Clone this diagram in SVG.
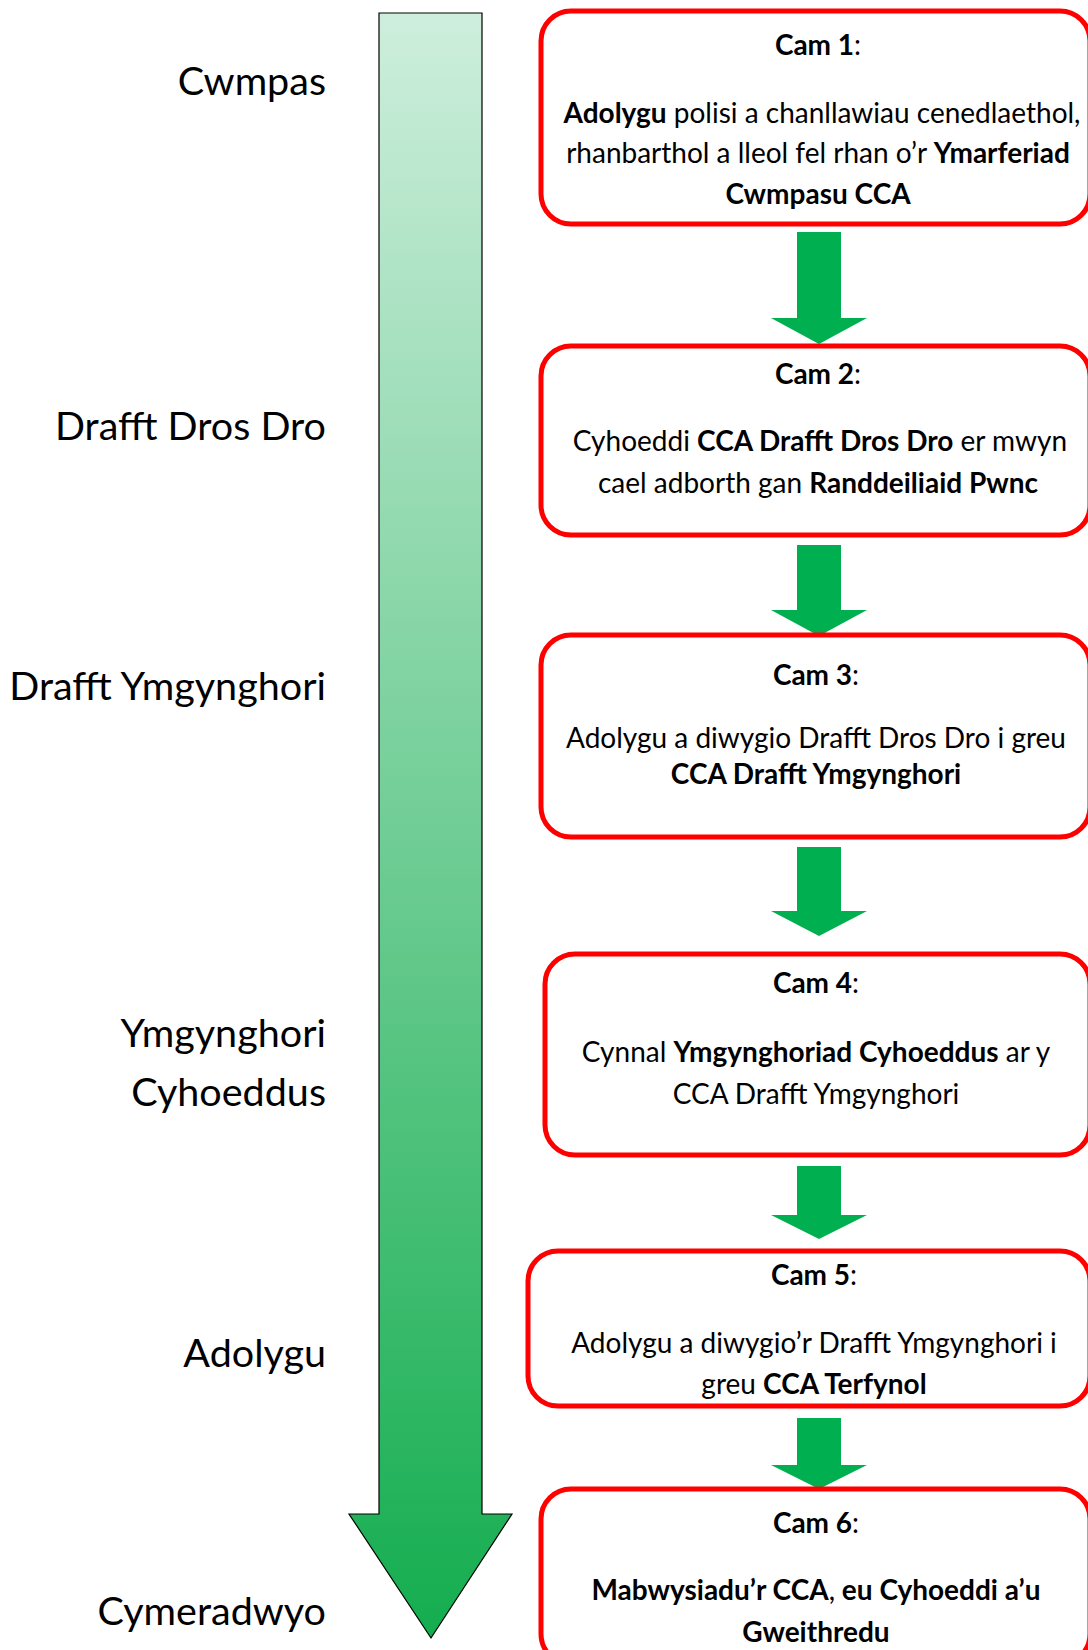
<svg xmlns="http://www.w3.org/2000/svg" width="1088" height="1650" viewBox="0 0 1088 1650">
<defs>
<linearGradient id="g" x1="0" y1="13" x2="0" y2="1639" gradientUnits="userSpaceOnUse">
<stop offset="0" stop-color="#CDEEDC"/>
<stop offset="1" stop-color="#14AD4F"/>
</linearGradient>
<style>
.lbl{font-family:Lato,"Liberation Sans",sans-serif;font-size:39.5px;fill:#000;text-anchor:end}
.box{fill:#fff;stroke:#FF0000;stroke-width:5}
.t{font-family:Lato,"Liberation Sans",sans-serif;font-size:28px;fill:#000;text-anchor:middle}
.b{font-weight:bold}
.ar{fill:#00B050}
</style>
</defs>
<rect width="1088" height="1650" fill="#fff"/>
<g id="timeline">
<path d="M379,13 H482 V1514 H512 L431,1638 L349,1514 H379 Z" fill="url(#g)" stroke="#000" stroke-width="1.2"/>
</g>
<g id="labels">
<text class="lbl" x="326" y="95">Cwmpas</text>
<text class="lbl" x="326" y="440">Drafft Dros Dro</text>
<text class="lbl" x="326" y="700">Drafft Ymgynghori</text>
<text class="lbl" x="326" y="1047">Ymgynghori</text>
<text class="lbl" x="326" y="1106">Cyhoeddus</text>
<text class="lbl" x="326" y="1367">Adolygu</text>
<text class="lbl" x="326" y="1625">Cymeradwyo</text>
</g>
<g id="connectors">
<path class="ar" d="M797,232 H841 V318 H867 L819,344 L771,318 H797 Z"/>
<path class="ar" d="M797,545 H841 V610 H867 L819,636 L771,610 H797 Z"/>
<path class="ar" d="M797,847 H841 V911 H867 L819,936 L771,911 H797 Z"/>
<path class="ar" d="M797,1166 H841 V1215 H867 L819,1239 L771,1215 H797 Z"/>
<path class="ar" d="M797,1418 H841 V1465 H867 L819,1489 L771,1465 H797 Z"/>
</g>
<g id="cam1">
<rect class="box" x="541" y="11" width="549" height="213" rx="30"/>
<text class="t" x="818" y="55"><tspan class="b">Cam 1</tspan>:</text>
<text class="t" x="822" y="123"><tspan class="b">Adolygu</tspan> polisi a chanllawiau cenedlaethol,</text>
<text class="t" x="818" y="163">rhanbarthol a lleol fel rhan o’r <tspan class="b">Ymarferiad</tspan></text>
<text class="t" x="818" y="204"><tspan class="b">Cwmpasu CCA</tspan></text>
</g>
<g id="cam2">
<rect class="box" x="541" y="346" width="549" height="189" rx="30"/>
<text class="t" x="818" y="384"><tspan class="b">Cam 2</tspan>:</text>
<text class="t" x="820" y="451">Cyhoeddi <tspan class="b">CCA Drafft Dros Dro</tspan> er mwyn</text>
<text class="t" x="818" y="493">cael adborth gan <tspan class="b">Randdeiliaid Pwnc</tspan></text>
</g>
<g id="cam3">
<rect class="box" x="541" y="635" width="549" height="202" rx="30"/>
<text class="t" x="816" y="685"><tspan class="b">Cam 3</tspan>:</text>
<text class="t" x="816" y="748">Adolygu a diwygio Drafft Dros Dro i greu</text>
<text class="t" x="816" y="784"><tspan class="b">CCA Drafft Ymgynghori</tspan></text>
</g>
<g id="cam4">
<rect class="box" x="545" y="954" width="545" height="201" rx="30"/>
<text class="t" x="816" y="993"><tspan class="b">Cam 4</tspan>:</text>
<text class="t" x="816" y="1062">Cynnal <tspan class="b">Ymgynghoriad Cyhoeddus</tspan> ar y</text>
<text class="t" x="816" y="1104">CCA Drafft Ymgynghori</text>
</g>
<g id="cam5">
<rect class="box" x="528" y="1251" width="562" height="155" rx="30"/>
<text class="t" x="814" y="1285"><tspan class="b">Cam 5</tspan>:</text>
<text class="t" x="814" y="1353">Adolygu a diwygio’r Drafft Ymgynghori i</text>
<text class="t" x="814" y="1394">greu <tspan class="b">CCA Terfynol</tspan></text>
</g>
<g id="cam6">
<rect class="box" x="541" y="1489" width="549" height="175" rx="30"/>
<text class="t" x="816" y="1533"><tspan class="b">Cam 6</tspan>:</text>
<text class="t b" x="816" y="1600">Mabwysiadu’r CCA<tspan font-weight="normal">,</tspan> eu Cyhoeddi a’u</text>
<text class="t b" x="816" y="1642">Gweithredu</text>
</g>
</svg>
